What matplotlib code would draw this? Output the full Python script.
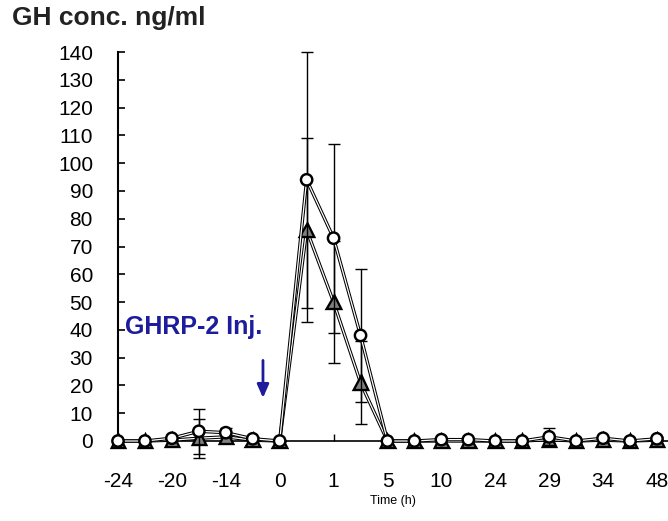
import numpy as np
import matplotlib
matplotlib.use("Agg")
import matplotlib.pyplot as plt
import matplotlib.patheffects as pe

plt.rcParams['font.family'] = ['Liberation Sans', 'DejaVu Sans']

# 21 sampling points, only every other one is labelled
tick_labels = ["-24", "-20", "-14", "0", "1", "5", "10", "24", "29", "34", "48"]
open_mean = [0, 0, 1, 3.5, 3, 0.8, 0, 94, 73, 38, 0, 0, 0.5, 0.5, 0, 0, 1.5, 0, 1, 0, 0.8]
open_err = [0, 0, 0.5, 8, 1.5, 0.5, 0, 46, 34, 24, 0, 0, 0, 0, 0, 0, 3, 0, 0.5, 0, 0.5]
tri_mean = [0, 0, 0.3, 1, 1.5, 0.3, 0, 76, 50, 21, 0, 0, 0, 0, 0, 0, 0.5, 0, 0.3, 0, 0.3]
tri_err = [0, 0, 0.3, 7, 1, 0.3, 0, 33, 22, 15, 0, 0, 0, 0, 0, 0, 0.5, 0, 0.3, 0, 0.3]

x = np.arange(len(open_mean))

fig = plt.figure(figsize=(6.68, 5.21), dpi=100)
ax = fig.add_axes([118/668, 80/521, 550/668, 389/521])

outline = [pe.Stroke(linewidth=2.4, foreground='black'), pe.Normal()]

ax.errorbar(x, tri_mean, yerr=tri_err, fmt='none', ecolor='black',
            elinewidth=1, capsize=4, capthick=1, clip_on=False, zorder=2)
ax.plot(x, tri_mean, color='white', lw=0.9, path_effects=outline,
        marker='^', ms=9, mfc='#808080', mec='black', mew=0.9,
        clip_on=False, zorder=3)

ax.errorbar(x, open_mean, yerr=open_err, fmt='none', ecolor='black',
            elinewidth=1, capsize=4, capthick=1, clip_on=False, zorder=4)
ax.plot(x, open_mean, color='white', lw=0.9, path_effects=outline,
        marker='o', ms=7.5, mfc='white', mec='black', mew=1.1,
        clip_on=False, zorder=5)

ax.set_xlim(0, 20.41)
ax.set_ylim(0, 140)
ax.set_yticks(np.arange(0, 141, 10))
ax.set_xticks(x[::2])
ax.set_xticklabels(tick_labels)

for s in ['top', 'right']:
    ax.spines[s].set_visible(False)
ax.spines['left'].set_linewidth(1.5)
ax.spines['bottom'].set_linewidth(1.2)
ax.tick_params(axis='y', direction='in', length=5, width=1.2, pad=18,
               labelsize=15)
ax.tick_params(axis='x', direction='in', length=5, width=1, pad=22,
               labelsize=15)

ax.set_xlabel("Time (h)", fontsize=9, labelpad=3)
fig.text(12/668, 1 - 18/521, "GH conc. ng/ml", fontsize=19, fontweight='bold',
         va='center', ha='left', color='#222222')

ax.text(0.26, 41, "GHRP-2 Inj.", color='#1c1c9c', fontsize=18,
        fontweight='bold', va='center', ha='left')
ax.annotate("", xy=(5.38, 14.5), xytext=(5.38, 30),
            arrowprops=dict(arrowstyle='-|>,head_width=0.35,head_length=0.8',
                            color='#1c1c9c', lw=2))

fig.savefig("out.png", dpi=100)
